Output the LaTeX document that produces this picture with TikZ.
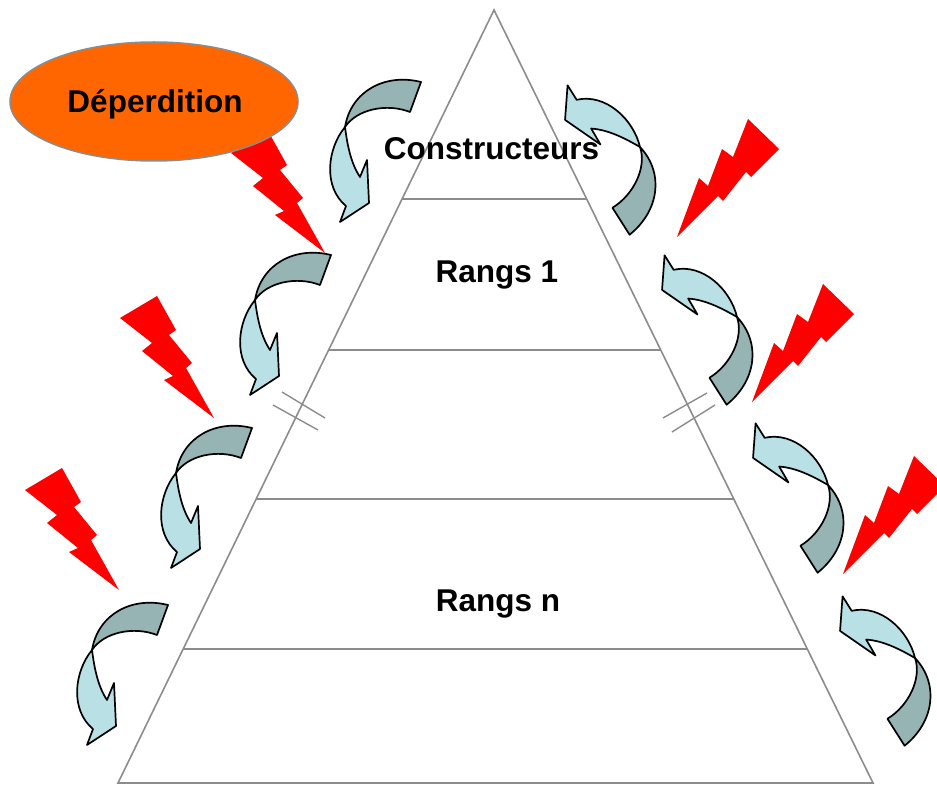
\documentclass[tikz,border=0pt]{standalone}
\usepackage{fontspec}
\setmainfont{Liberation Sans}
\usetikzlibrary{calc,shapes.geometric}
\definecolor{pyrgray}{HTML}{8C8C8C}
\definecolor{darkrib}{HTML}{96B4B4}
\definecolor{lightrib}{HTML}{B9E1E5}
\definecolor{orng}{HTML}{FF6600}
\newcommand\ribbonLeft{%
  \filldraw[ribbon,fill=darkrib] (76,-45) .. controls (40,-54) and (6,-36) .. (0,0)
     .. controls (12,-18) and (42,-24) .. (65,-15) -- cycle;
  \filldraw[ribbon,fill=lightrib] (0,0) .. controls (-18,22) and (-22,60) .. (1,79)
     -- (-5,95) -- (24,76) -- (22,33) -- (15,50) .. controls (5,35) and (2,15) .. (0,0) -- cycle;
}
\newcommand\boltLeft{%
  \fill[bolt] (0,0) -- (-50,-38) -- (-41,-42) -- (-72,-67) -- (-62,-75) -- (-94,-100)
    -- (-57,-122) -- (-38,-88) -- (-45,-83) -- (-22,-55) -- (-28,-50) -- cycle;
}
\newcommand\boltRight{%
  \fill[bolt] (0,0) -- (22,-59) -- (31,-51) -- (45,-88) -- (56,-80) -- (71,-118)
    -- (102,-88) -- (74,-60) -- (69,-65) -- (46,-36) -- (41,-41) -- cycle;
}
\begin{document}
\begin{tikzpicture}[x=1pt,y=-1pt,
  pyr/.style={draw=pyrgray,line width=1.6pt},
  brk/.style={draw=pyrgray,line width=1.4pt},
  ribbon/.style={draw=black,line width=1.7pt,line join=round},
  bolt/.style={fill=red},
  lbl/.style={font=\fontsize{31.5}{36}\selectfont\bfseries,anchor=base,inner sep=0pt}]
\useasboundingbox (0,0) rectangle (937,786);
% pyramid
\coordinate (apex) at (494,10);
\coordinate (bl) at (118,783);
\coordinate (br) at (873,783);
\draw[pyr,line join=miter] (apex) -- (bl) -- (br) -- cycle;
\foreach \t in {0.2445,0.4398,0.6326,0.8266}{
  \draw[pyr] ($(apex)!\t!(bl)$) -- ($(apex)!\t!(br)$);
}
% break marks
\draw[brk] (282,392) -- (325,418);
\draw[brk] (273,405) -- (318,430);
\draw[brk] (663,418) -- (707,393);
\draw[brk] (672,432) -- (715,405);
% bolts
\begin{scope}[shift={(325,253)}]\boltLeft\end{scope}
\begin{scope}[shift={(214,418)}]\boltLeft\end{scope}
\begin{scope}[shift={(119,590)}]\boltLeft\end{scope}
\begin{scope}[shift={(677,237)}]\boltRight\end{scope}
\begin{scope}[shift={(752,402)}]\boltRight\end{scope}
\begin{scope}[shift={(843,574)}]\boltRight\end{scope}
% ellipse
\node[draw=pyrgray,line width=1.5pt,fill=orng,ellipse,minimum width=288pt,minimum height=119pt,inner sep=0pt] (dep) at (154,101.5) {};
\node[lbl] (deptxt) at (155,113) {Déperdition};
% ribbons left
\begin{scope}[shift={(345,127)}]\ribbonLeft\end{scope}
\begin{scope}[shift={(255,300)}]\ribbonLeft\end{scope}
\begin{scope}[shift={(176,473)}]\ribbonLeft\end{scope}
\begin{scope}[shift={(92,650)}]\ribbonLeft\end{scope}
% ribbons right
\begin{scope}[shift={(640,147)},rotate=-127.4]\ribbonLeft\end{scope}
\begin{scope}[shift={(737,317)},rotate=-127.4]\ribbonLeft\end{scope}
\begin{scope}[shift={(828,485)},rotate=-127.4]\ribbonLeft\end{scope}
\begin{scope}[shift={(915,658)},rotate=-127.4]\ribbonLeft\end{scope}
% labels
\node[lbl] (cons) at (491.5,160) {Constructeurs};
\node[lbl] (r1) at (497,283) {Rangs 1};
\node[lbl] (rn) at (498,611) {Rangs n};
\end{tikzpicture}
\end{document}
